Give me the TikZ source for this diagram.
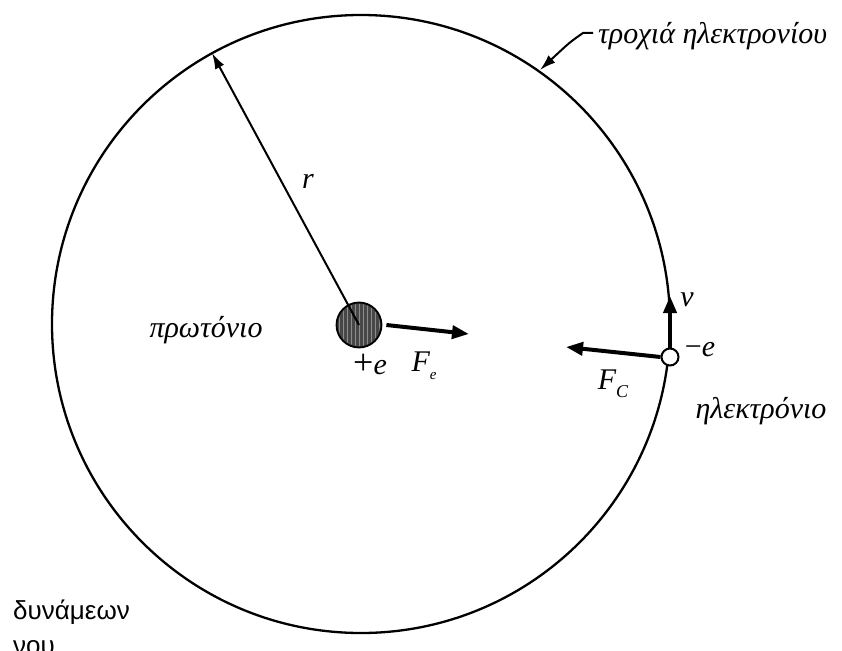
\documentclass[tikz,border=0pt]{standalone}
\usepackage{fontspec}
\setmainfont{Liberation Serif}
\newfontfamily\sansgr{Liberation Sans}
\usetikzlibrary{arrows.meta}
\begin{document}
\begin{tikzpicture}[x=1pt,y=-1pt,
  lbl/.style={font=\fontsize{30}{33}\selectfont\itshape, inner sep=0pt},
  force/.style={line width=4pt, -{Triangle[length=17pt,width=13pt]}},
  thin arrow/.style={line width=2pt, -{Latex[length=16pt,width=10pt]}}]
\useasboundingbox (0,0) rectangle (842,650);
\clip (0,0) rectangle (842,650);
\fill[white] (0,0) rectangle (842,650);
% orbit
\node[draw, circle, line width=2.3pt, minimum size=618pt, inner sep=0pt] (orbit) at (361,324) {};
% proton
\node[circle, draw, line width=1.8pt, fill=black!72, minimum size=45pt, inner sep=0pt] (p) at (359,325) {};
\begin{scope}
  \clip (359,325) circle (21);
  \foreach \x in {-20,-16,...,20}
    \draw[black!45, line width=0.7pt] (359+\x,302) -- (359+\x,348);
\end{scope}
% electron
\node[circle, draw, line width=2pt, fill=white, minimum size=17pt, inner sep=0pt] (el) at (670,357) {};
% radius
\coordinate (rtip) at (212,53);
\draw[thin arrow] (p.center) -- (rtip);
% forces
\coordinate (fe) at (469,334);
\draw[force] ([xshift=4pt]p.east) -- (fe);
\coordinate (fc) at (566,347);
\draw[force] (el.west) -- (fc);
\coordinate (vt) at (670,296);
\draw[force] (el.north) -- (vt);
% labels
\node[lbl] (lr) at (308,181) {r};
\node[lbl] (lp) at (206,330) {πρωτόνιο};
\node[lbl] (lpe) at (370,364) {\fontsize{36}{36}\selectfont\upshape+\fontsize{30}{33}\selectfont\itshape e};
\node[lbl] (lfe) at (424,366) {F\raisebox{-8pt}{\fontsize{15}{16}\selectfont e}};
\node[lbl] (lfc) at (613,384) {F\raisebox{-8pt}{\fontsize{18}{19}\selectfont C}};
\node[lbl] (lv) at (687,300) {v};
\node[lbl] (lme) at (700,350) {\upshape−\itshape e};
\node[lbl] (lel) at (761,411) {ηλεκτρόνιο};
\node[lbl, anchor=west] (lorb) at (598,36) {τροχιά ηλεκτρονίου};
% leader to orbit
\coordinate (otip) at (540,70);
\draw[thin arrow] ([xshift=-5pt,yshift=3pt]lorb.west) -- ++(-10,0) .. controls (570,42) .. (otip);
% bottom-left text
\node[font=\sansgr\fontsize{26}{30}\selectfont, anchor=west, inner sep=0pt] (d1) at (13,612) {δυνάμεων};
\node[font=\sansgr\fontsize{26}{30}\selectfont, anchor=west, inner sep=0pt] (d2) at (13,648) {νου};
\end{tikzpicture}
\end{document}
